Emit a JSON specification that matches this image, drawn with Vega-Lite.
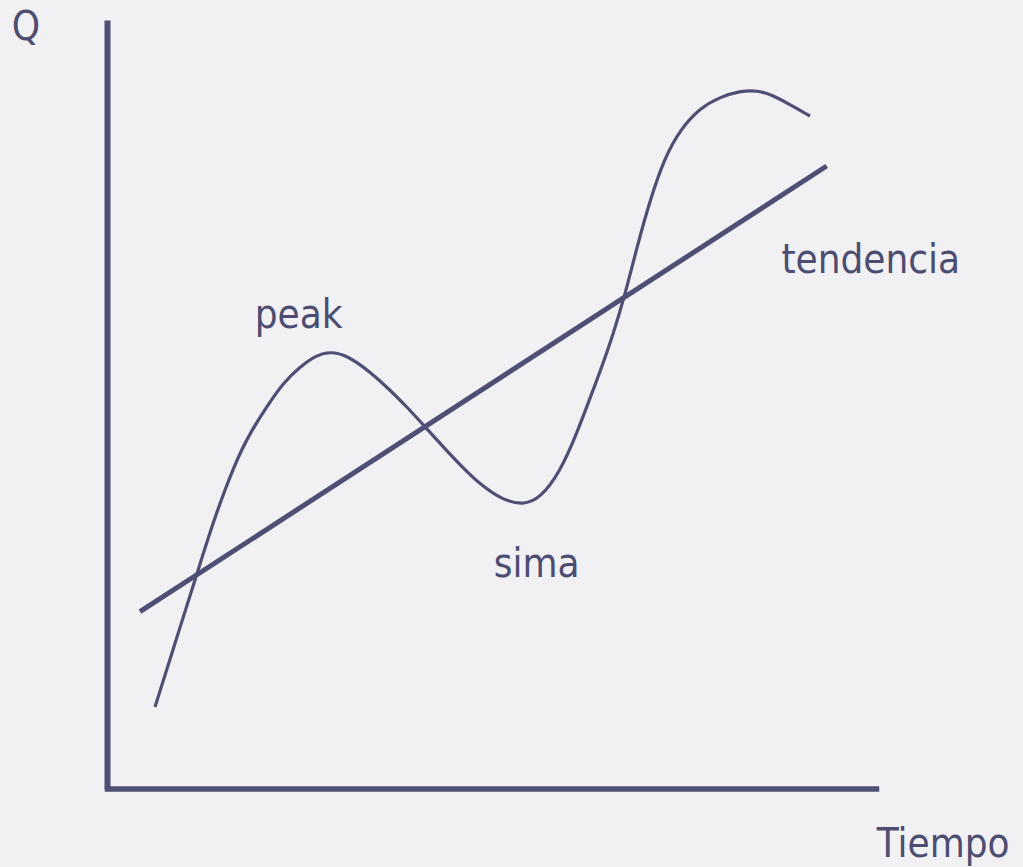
{
  "$schema": "https://vega.github.io/schema/vega-lite/v6.json",
  "width": 769,
  "height": 768.5,
  "autosize": {"type": "none"},
  "padding": {"left": 107, "top": 20, "right": 147, "bottom": 78.5},
  "background": "#f1f1f3",
  "config": {"view": {"stroke": null}},
  "datasets": {
    "curve": [
      {"t": 6.24, "q": 10.60},
      {"t": 8.97, "q": 19.32},
      {"t": 11.66, "q": 27.78},
      {"t": 13.78, "q": 34.68},
      {"t": 16.64, "q": 42.36},
      {"t": 18.60, "q": 46.26},
      {"t": 20.77, "q": 49.68},
      {"t": 22.89, "q": 52.77},
      {"t": 25.10, "q": 54.89},
      {"t": 27.27, "q": 56.41},
      {"t": 29.00, "q": 56.85},
      {"t": 31.17, "q": 56.41},
      {"t": 34.20, "q": 54.24},
      {"t": 36.80, "q": 51.85},
      {"t": 38.97, "q": 49.68},
      {"t": 41.35, "q": 47.08},
      {"t": 43.69, "q": 44.48},
      {"t": 46.29, "q": 41.70},
      {"t": 48.89, "q": 39.27},
      {"t": 51.50, "q": 37.54},
      {"t": 54.10, "q": 36.90},
      {"t": 56.31, "q": 37.74},
      {"t": 58.91, "q": 41.18},
      {"t": 61.12, "q": 46.26},
      {"t": 63.20, "q": 51.85},
      {"t": 64.11, "q": 54.20},
      {"t": 65.67, "q": 58.62},
      {"t": 67.36, "q": 64.22},
      {"t": 68.92, "q": 70.46},
      {"t": 70.61, "q": 76.58},
      {"t": 72.56, "q": 82.17},
      {"t": 74.51, "q": 85.69},
      {"t": 77.11, "q": 88.55},
      {"t": 79.71, "q": 89.98},
      {"t": 82.31, "q": 90.75},
      {"t": 84.53, "q": 90.85},
      {"t": 86.48, "q": 90.24},
      {"t": 88.43, "q": 89.20},
      {"t": 91.42, "q": 87.51}
    ],
    "trend": [
      {"t": 4.29, "q": 23.01},
      {"t": 93.59, "q": 81.00}
    ],
    "labels": [
      {"t": -12.4, "q": 97.4, "label": "Q"},
      {"t": 19.2, "q": 59.92, "label": "peak"},
      {"t": 50.3, "q": 27.52, "label": "sima"},
      {"t": 87.7, "q": 67.08, "label": "tendencia"},
      {"t": 100.1, "q": -8.91, "label": "Tiempo"}
    ]
  },
  "layer": [
    {
      "data": {"name": "curve"},
      "mark": {"type": "line", "interpolate": "basis", "color": "#4f4f75", "strokeWidth": 3.2, "clip": false},
      "encoding": {
        "x": {"field": "t", "type": "quantitative", "scale": {"domain": [0, 100], "nice": false, "zero": false},
              "axis": {"title": null, "labels": false, "ticks": false, "grid": false, "domain": true, "domainColor": "#4f4f75", "domainWidth": 5.5, "domainCap": "square"}},
        "y": {"field": "q", "type": "quantitative", "scale": {"domain": [0, 100], "nice": false, "zero": false},
              "axis": {"title": null, "labels": false, "ticks": false, "grid": false, "domain": true, "domainColor": "#4f4f75", "domainWidth": 6, "domainCap": "butt"}}
      }
    },
    {
      "data": {"name": "trend"},
      "mark": {"type": "line", "color": "#4f4f75", "strokeWidth": 5, "clip": false},
      "encoding": {
        "x": {"field": "t", "type": "quantitative"},
        "y": {"field": "q", "type": "quantitative"}
      }
    },
    {
      "data": {"name": "labels"},
      "mark": {"type": "text", "align": "left", "baseline": "alphabetic", "font": "DejaVu Sans Condensed, DejaVu Sans", "fontSize": 40, "color": "#4d4d72", "clip": false},
      "encoding": {
        "x": {"field": "t", "type": "quantitative"},
        "y": {"field": "q", "type": "quantitative"},
        "text": {"field": "label"}
      }
    }
  ]
}
